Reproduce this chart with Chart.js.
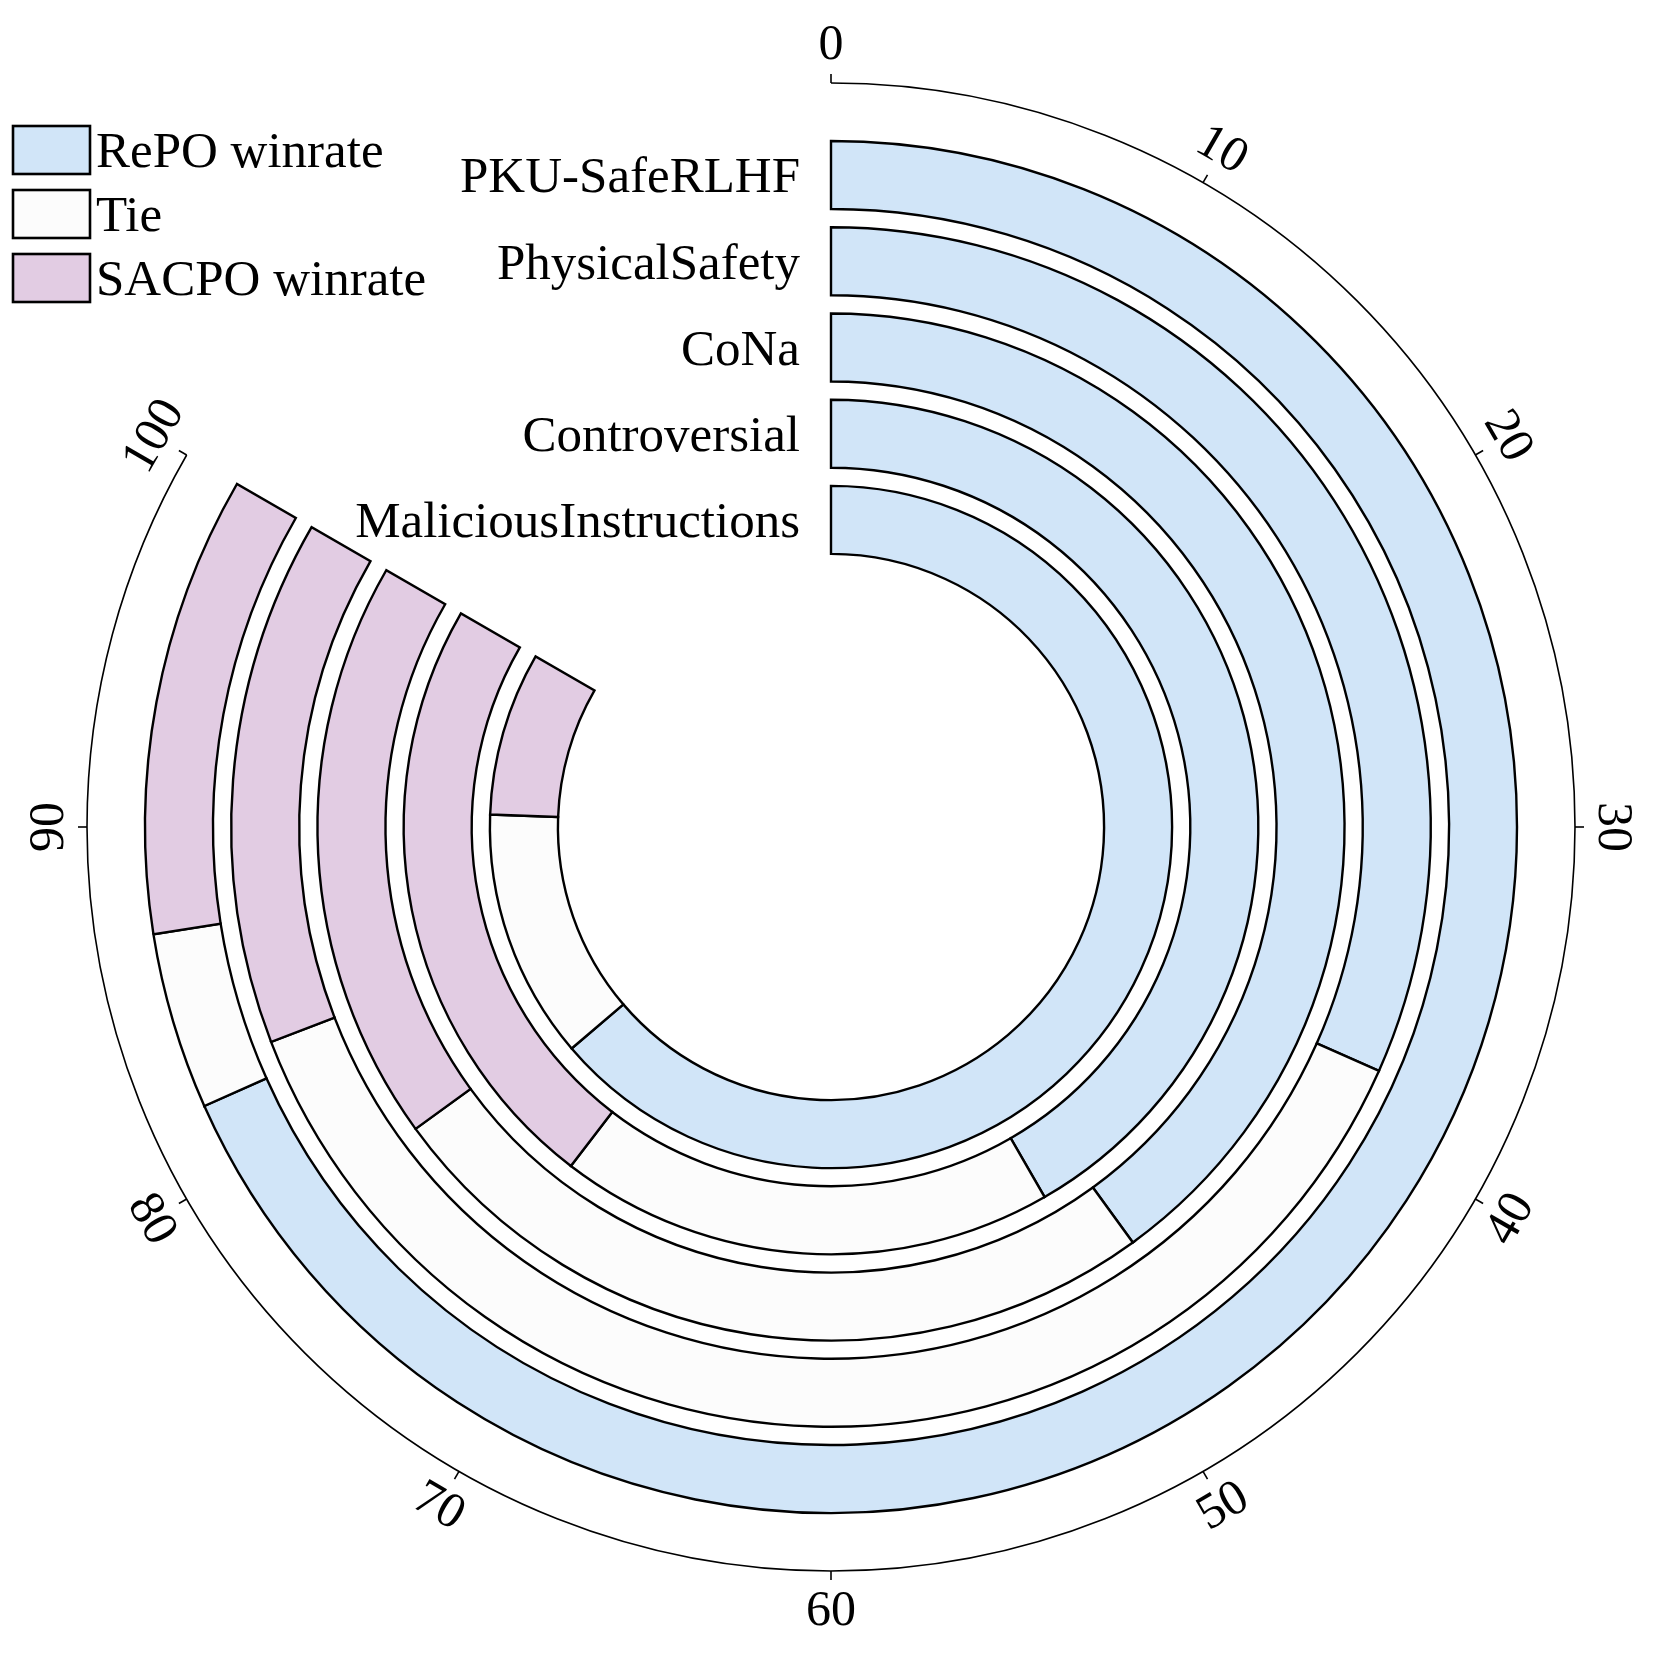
<!DOCTYPE html>
<html>
<head>
<meta charset="utf-8">
<script src="https://cdn.jsdelivr.net/npm/chart.js@4.4.1/dist/chart.umd.min.js"></script>
<style>
  html, body { margin: 0; padding: 0; background: #fff; }
  canvas { display: block; }
</style>
</head>
<body>
<canvas id="winrateChart" width="1661" height="1658"></canvas>
<script>
// rings from outside to inside
const categories = ['PKU-SafeRLHF', 'PhysicalSafety', 'CoNa', 'Controversial', 'MaliciousInstructions'];
const seriesNames = ['RePO winrate', 'Tie', 'SACPO winrate'];
const repoWinrate = [82, 38, 48, 50, 76.5];
const tieRate = [5, 45, 30, 22.5, 14.2];
const sacpoWinrate = [13, 17, 22, 27.5, 9.3];
const angleTicks = [0, 10, 20, 30, 40, 50, 60, 70, 80, 90, 100];

const seriesColors = ['#D1E5F8', '#FCFCFC', '#E2CCE3'];
const FONT = '"Liberation Serif", "Times New Roman", serif';
const RING_WEIGHT = 68;
const GAP_WEIGHT = 18.2;
const AXIS_MAX = 100; // the bars span 0..100 over the doughnut circumference

const datasets = [];
categories.forEach((name, i) => {
  if (i > 0) {
    // transparent spacer ring between two bars
    datasets.push({
      label: 'gap',
      data: [1],
      backgroundColor: 'rgba(0,0,0,0)',
      borderWidth: 0,
      weight: GAP_WEIGHT,
      isGap: true,
    });
  }
  datasets.push({
    label: name,
    data: [repoWinrate[i], tieRate[i], sacpoWinrate[i]],
    backgroundColor: seriesColors,
    borderColor: '#000',
    borderWidth: 2.4,
    borderJoinStyle: 'miter',
    weight: RING_WEIGHT,
  });
});

function valueToAngle(chart, v) {
  const rot = ((chart.options.rotation || 0) - 90) * Math.PI / 180;
  const circ = chart.options.circumference * Math.PI / 180;
  return rot + (v / AXIS_MAX) * circ;
}

const polarAxis = {
  id: 'polarAxis',
  afterDatasetsDraw(chart) {
    const { ctx } = chart;
    const arc0 = chart.getDatasetMeta(0).data[0];
    const cx = arc0.x;
    const cy = arc0.y;
    const r = arc0.outerRadius + 58;

    ctx.save();
    ctx.strokeStyle = '#000';
    ctx.lineWidth = 1.6;
    ctx.beginPath();
    ctx.arc(cx, cy, r, valueToAngle(chart, 0), valueToAngle(chart, AXIS_MAX));
    ctx.stroke();

    ctx.font = `50px ${FONT}`;
    ctx.fillStyle = '#000';
    ctx.textAlign = 'center';
    ctx.textBaseline = 'middle';
    angleTicks.forEach((v) => {
      const a = valueToAngle(chart, v);
      const cos = Math.cos(a);
      const sin = Math.sin(a);
      ctx.beginPath();
      ctx.moveTo(cx + r * cos, cy + r * sin);
      ctx.lineTo(cx + (r + 9) * cos, cy + (r + 9) * sin);
      ctx.stroke();

      let rot = a + Math.PI / 2;
      while (rot > Math.PI) rot -= 2 * Math.PI;
      while (rot <= -Math.PI) rot += 2 * Math.PI;
      if (rot > Math.PI / 2 + 1e-6) rot -= Math.PI;
      if (rot < -Math.PI / 2 - 1e-6) rot += Math.PI;
      const lr = r + 39;
      ctx.save();
      ctx.translate(cx + lr * cos, cy + lr * sin);
      ctx.rotate(rot);
      ctx.fillText(String(v), 0, 2);
      ctx.restore();
    });

    // category names at the start of each ring
    ctx.font = `51px ${FONT}`;
    ctx.textAlign = 'right';
    chart.data.datasets.forEach((ds, i) => {
      if (ds.isGap) return;
      const el = chart.getDatasetMeta(i).data[0];
      const mid = (el.innerRadius + el.outerRadius) / 2;
      ctx.fillText(ds.label, cx - 31, cy - mid + 4);
    });

    // legend
    ctx.textAlign = 'left';
    ctx.lineWidth = 2.6;
    seriesNames.forEach((name, i) => {
      const y = 126 + i * 64;
      ctx.fillStyle = seriesColors[i];
      ctx.fillRect(13, y, 77, 48);
      ctx.strokeRect(13, y, 77, 48);
      ctx.fillStyle = '#000';
      ctx.fillText(name, 96, y + 28);
    });
    ctx.restore();
  },
};

new Chart(document.getElementById('winrateChart'), {
  type: 'doughnut',
  data: { labels: seriesNames, datasets },
  options: {
    responsive: false,
    devicePixelRatio: 1,
    animation: false,
    events: [],
    rotation: 0,
    circumference: 300,
    radius: 686,
    cutout: 273,
    layout: { padding: { left: 144, right: 143, top: 140, bottom: 144 } },
    plugins: {
      legend: { display: false },
      tooltip: { enabled: false },
    },
  },
  plugins: [polarAxis],
});
</script>
</body>
</html>
